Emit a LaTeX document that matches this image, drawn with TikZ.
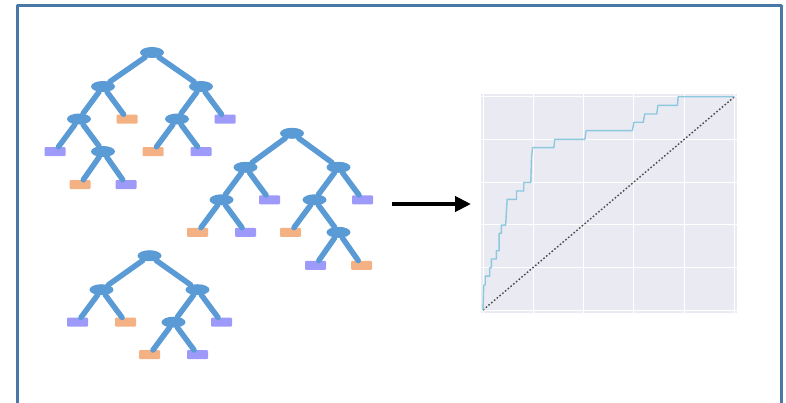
\documentclass[tikz,border=0pt]{standalone}
\usepackage{tikz}
\usepackage{xcolor}
\usetikzlibrary{arrows.meta,shapes.geometric}

\definecolor{treeBlue}{HTML}{5B9BD5}
\definecolor{leafOrange}{HTML}{F4B183}
\definecolor{leafPurple}{HTML}{9E9AFA}
\definecolor{frameBlue}{HTML}{4A78A6}
\definecolor{panelGray}{HTML}{EAEAF2}
\definecolor{curveBlue}{HTML}{8CC8DE}

\begin{document}
\begin{tikzpicture}[
  x=1pt, y=-1pt,
  line cap=round,
  line join=round,
  grow=down,
  edge from parent/.style={draw=treeBlue, line width=5.5pt},
  level 1/.style={level distance=34pt},
  level 2/.style={sibling distance=48pt, level distance=32.5pt},
  level 3/.style={sibling distance=48pt, level distance=32.5pt},
  level 4/.style={sibling distance=46pt, level distance=33pt}
]

% ---------- node styles ----------
\tikzset{
  splitNode/.style={ellipse, fill=treeBlue, minimum width=24pt, minimum height=11pt, inner sep=0pt},
  orangeLeaf/.style={rectangle, fill=leafOrange, rounded corners=1pt, minimum width=21pt, minimum height=9pt, inner sep=0pt},
  purpleLeaf/.style={rectangle, fill=leafPurple, rounded corners=1pt, minimum width=21pt, minimum height=9pt, inner sep=0pt}
}

\clip (0,0) rectangle (786,402);

% ---------- outer frame ----------
\draw[frameBlue, line width=3pt, line cap=butt] (17.5,410) |- (781,5.5) -- (781,410);

% ---------- first tree ----------
\node[splitNode] (treeA) at (152,52.5) {}
  child[sibling distance=98pt] { node[splitNode] {}
    child { node[splitNode] {}
      child { node[purpleLeaf] {} }
      child { node[splitNode] {}
        child { node[orangeLeaf] {} }
        child { node[purpleLeaf] {} }
      }
    }
    child { node[orangeLeaf] {} }
  }
  child[sibling distance=98pt] { node[splitNode] {}
    child { node[splitNode] {}
      child { node[orangeLeaf] {} }
      child { node[purpleLeaf] {} }
    }
    child { node[purpleLeaf] {} }
  };

% ---------- second tree ----------
\node[splitNode] (treeB) at (292,133.3) {}
  child[sibling distance=93pt] { node[splitNode] {}
    child { node[splitNode] {}
      child { node[orangeLeaf] {} }
      child { node[purpleLeaf] {} }
    }
    child { node[purpleLeaf] {} }
  }
  child[sibling distance=93pt] { node[splitNode] {}
    child { node[splitNode] {}
      child { node[orangeLeaf] {} }
      child { node[splitNode] {}
        child { node[purpleLeaf] {} }
        child { node[orangeLeaf] {} }
      }
    }
    child { node[purpleLeaf] {} }
  };

% ---------- third tree ----------
\node[splitNode] (treeC) at (149.5,255.7) {}
  child[sibling distance=96pt] { node[splitNode] {}
    child { node[purpleLeaf] {} }
    child { node[orangeLeaf] {} }
  }
  child[sibling distance=96pt] { node[splitNode] {}
    child { node[splitNode] {}
      child { node[orangeLeaf] {} }
      child { node[purpleLeaf] {} }
    }
    child { node[purpleLeaf] {} }
  };

% ---------- arrow ----------
\coordinate (arrowTail) at (392,204);
\coordinate (arrowTip) at (471,204);
\draw[line width=4pt, line cap=butt, -{Triangle[length=16pt, width=15pt]}] (arrowTail) -- (arrowTip);

% ---------- ROC panel ----------
\begin{scope}[shift={(483,310)}, x=251.5pt, y=213.3pt]
  \fill[panelGray] (-0.008,-0.014) rectangle (1.01,1.013);
  \foreach \g in {0,0.2,0.4,0.6,0.8,1.0} {
    \draw[white, line width=0.9pt] (\g,-0.014) -- (\g,1.013);
    \draw[white, line width=0.9pt] (-0.008,\g) -- (1.01,\g);
  }
  \draw[black!70, line width=1.4pt, line cap=butt, dash pattern=on 1.6pt off 2pt] (0,0) -- (1,1);
  \draw[curveBlue, line width=1.4pt, line cap=butt]
    (0,0) -- (0.003,0.117) -- (0.009,0.117) -- (0.009,0.159) -- (0.027,0.159)
    -- (0.027,0.198) -- (0.033,0.198) -- (0.033,0.239) -- (0.053,0.239)
    -- (0.053,0.278) -- (0.064,0.278) -- (0.064,0.359) -- (0.073,0.359)
    -- (0.073,0.398) -- (0.09,0.398) -- (0.096,0.519) -- (0.133,0.519)
    -- (0.133,0.558) -- (0.162,0.558) -- (0.162,0.598) -- (0.19,0.598)
    -- (0.193,0.719) -- (0.197,0.761) -- (0.282,0.761) -- (0.285,0.8)
    -- (0.405,0.8) -- (0.41,0.841) -- (0.594,0.841) -- (0.6,0.88)
    -- (0.637,0.88) -- (0.643,0.919) -- (0.691,0.919) -- (0.695,0.959)
    -- (0.773,0.959) -- (0.776,1) -- (1,1);
\end{scope}

\end{tikzpicture}
\end{document}
